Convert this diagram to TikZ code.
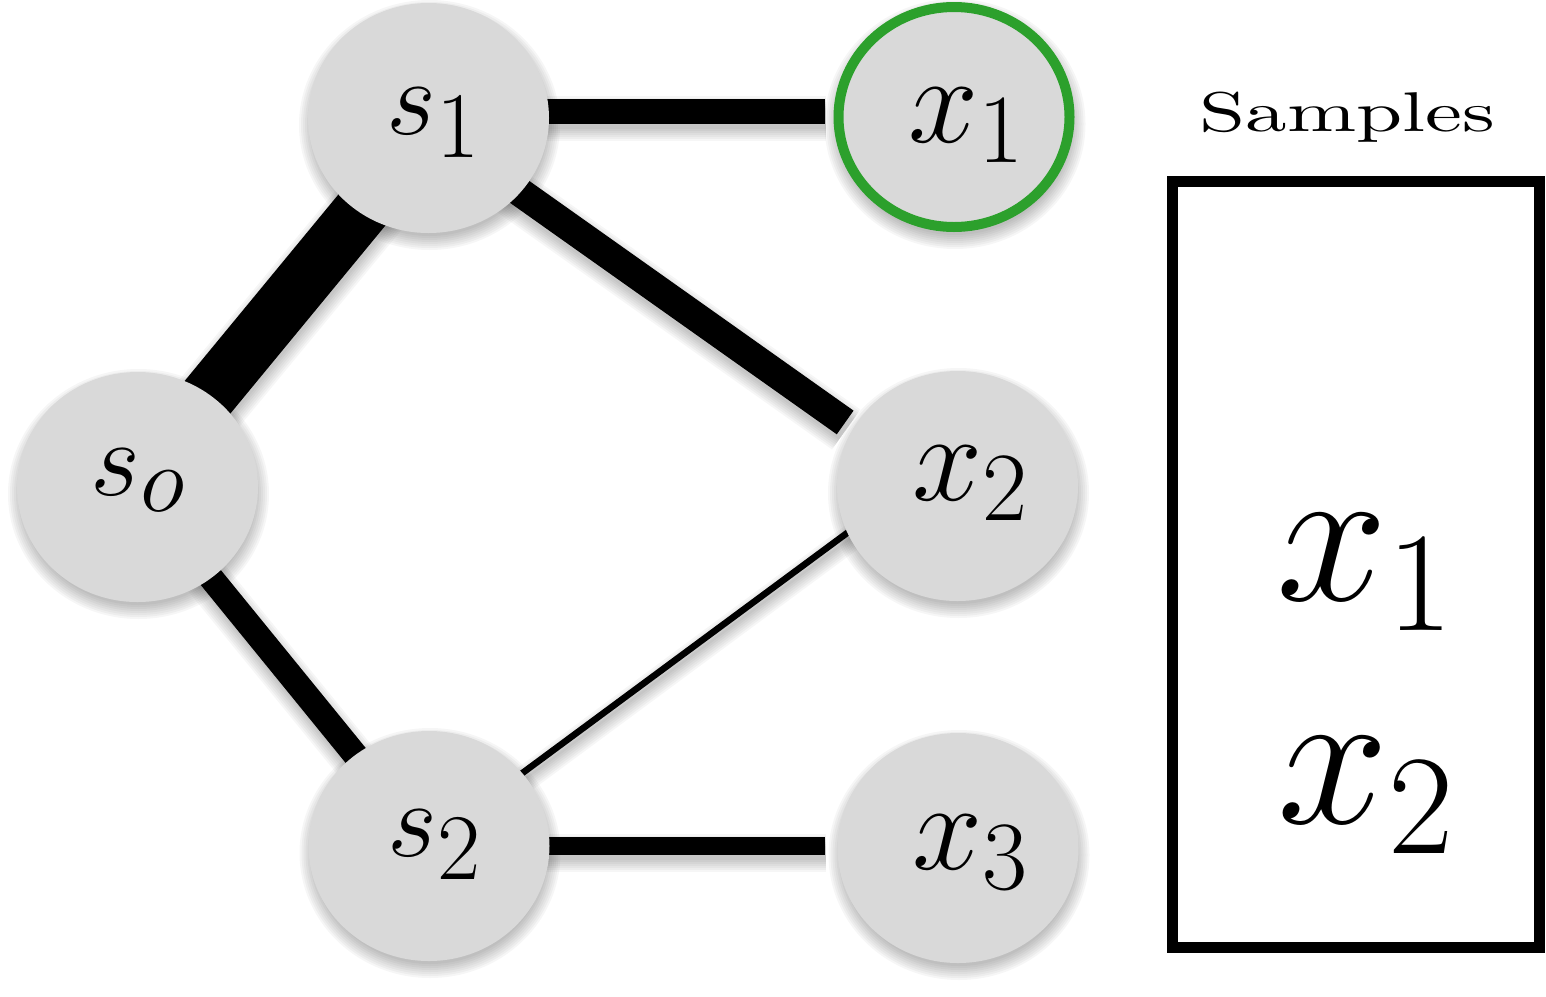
\documentclass[tikz,border=0pt]{standalone}
\RequirePackage{fix-cm}
\usepackage{graphicx}
\usetikzlibrary{shapes.geometric,backgrounds,calc}

\DeclareMathSizes{108}{108}{94}{66}
\DeclareMathSizes{126}{126}{98}{70}
\DeclareMathSizes{200}{200}{142}{100}

\definecolor{nodefill}{RGB}{217,217,217}
\definecolor{hitgreen}{RGB}{44,160,44}

\newcommand\statefont{\fontsize{108}{120}\selectfont}
\newcommand\obsfont{\fontsize{126}{140}\selectfont}
\newcommand\samplefont{\fontsize{200}{220}\selectfont}

% soft shadow below a node, built from stacked translucent ellipses
\newcommand\nodeshadow[1]{%
  \foreach \g in {10,8,...,-4}{%
    \fill[black,opacity=0.035] ($(#1.center)+(1,7)$)
      ellipse[x radius={(120.5+\g)*1pt}, y radius={(115+\g)*1pt}];}}

% connector of width #1 from #2 to #3 with a soft shadow; #4 = extra options
\newcommand\tielink[4]{%
  \foreach \g in {10,8,...,-2}{%
    \draw[black,opacity=0.035,line width={max(1,#1+2*\g)*1pt},
      transform canvas={shift={(1pt,-7pt)}},#4] #2 -- #3;}
  \draw[black,line width=#1pt,#4] #2 -- #3;}

\begin{document}
\begin{tikzpicture}[x=1pt,y=-1pt,
  state/.style={ellipse,fill=nodefill,minimum width=241pt,minimum height=230pt,
    inner sep=0pt,outer sep=0pt},
  hit/.style={state,draw=hitgreen,line width=10pt,minimum width=231pt,
    minimum height=220pt,outer sep=5pt},
  lbl/.style={inner sep=0pt,outer sep=0pt},
  sampbox/.style={draw=black,line width=11pt,inner sep=0pt,
    minimum width=367pt,minimum height=766pt}]
\useasboundingbox (0,0) rectangle (1546,996);

% graph nodes
\node[state] (s1) at (428.5,118) {};
\node[hit]   (x1) at (954,117) {};
\node[state] (so) at (137.5,487) {};
\node[state] (x2) at (957.5,486) {};
\node[state] (s2) at (429,846) {};
\node[state] (x3) at (958,848) {};

% node labels
\node[lbl] (s1-t) at ($(s1)+(4.5,5)$)   {\statefont $s_1$};
\node[lbl] (x1-t) at ($(x1)+(12,8)$)    {\obsfont $x_1$};
\node[lbl] (so-t) at ($(so)+(0,-7)$)    {\statefont $s_o$};
\node[lbl] (x2-t) at ($(x2)+(12.5,-2.5)$) {\obsfont $x_2$};
\node[lbl] (s2-t) at ($(s2)+(5.5,-1.5)$) {\statefont $s_2$};
\node[lbl] (x3-t) at ($(x3)+(12,4)$)    {\obsfont $x_3$};

% shadows and connectors behind the nodes
\begin{scope}[on background layer]
  \nodeshadow{s1}\nodeshadow{x1}\nodeshadow{so}
  \nodeshadow{x2}\nodeshadow{s2}\nodeshadow{x3}
  \tielink{56}{(so.52)}{(s1.234)}{shorten <=-30pt,shorten >=-30pt}
  \tielink{25}{(s1.3)}{(s1.3 -| x1.west)}{shorten <=-20pt,shorten >=8.5pt}
  \tielink{29}{(s1.321)}{(x2.151)}{shorten <=-25pt,shorten >=10pt}
  \tielink{25}{(so.309)}{(s2.129)}{shorten <=-20pt,shorten >=-20pt}
  \tielink{6.5}{(s2.38)}{(x2.203)}{shorten <=-8pt,shorten >=-8pt}
  \tielink{18}{(s2.east)}{(s2.east -| x3.west)}{shorten <=-20pt,shorten >=12.5pt}
\end{scope}

% sample panel
\node[lbl] (samples) at (1347.5,117.5)
  {\scalebox{8.3}[5.6]{\fontsize{10}{12}\selectfont Samples}};
\node[sampbox] (panel) at (1356,564.5) {};
\node[lbl] (p-x1) at (1365,572.5) {\samplefont $x_1$};
\node[lbl] (p-x2) at (1366,795)   {\samplefont $x_2$};
\end{tikzpicture}
\end{document}
